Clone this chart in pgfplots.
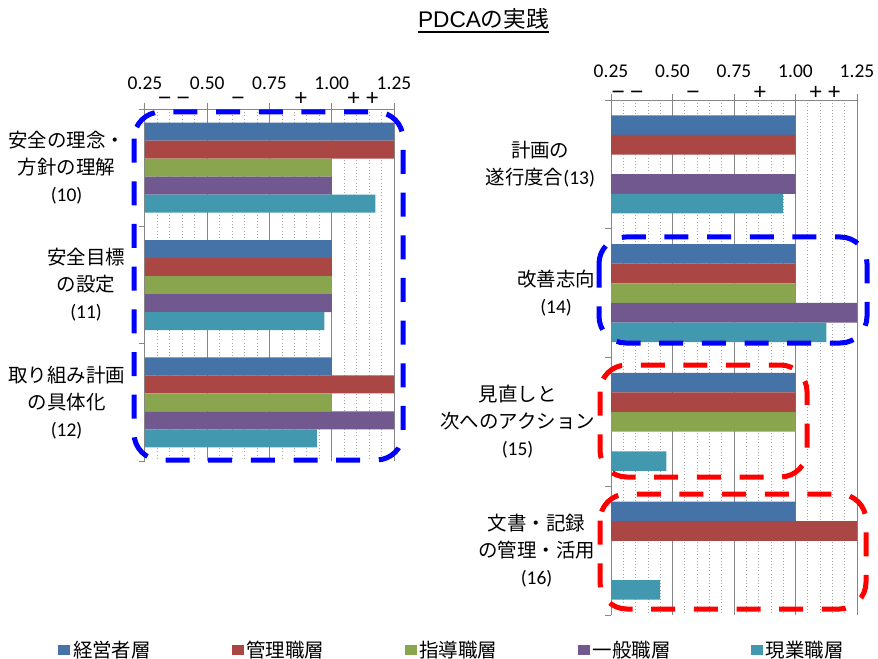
\documentclass[border=0pt]{standalone}
\usepackage{fontspec}
\setmainfont{Carlito}
\newfontfamily\jp{Noto Sans CJK JP}
\newfontfamily\arial{Liberation Sans}
\usepackage{pgfplots}
\pgfplotsset{compat=1.18}

\definecolor{c1}{HTML}{4572A7}
\definecolor{c2}{HTML}{AA4643}
\definecolor{c3}{HTML}{89A54E}
\definecolor{c4}{HTML}{71588F}
\definecolor{c5}{HTML}{4198AF}
\definecolor{gridmaj}{HTML}{868686}
\definecolor{gridmin}{HTML}{A6A6A6}

\newcommand{\lbl}{\fontsize{14.6}{20.25}\selectfont}

\pgfplotsset{
  panel/.style={
    scale only axis,
    xbar=0pt,
    xmin=0.25, xmax=1.25,
    xtick={0.25,0.5,0.75,1,1.25},
    minor x tick num=4,
    axis x line*=top,
    axis y line*=left,
    xticklabel pos=upper,
    axis line style={gridmaj, line width=0.75pt},
    y dir=reverse,
    tick align=outside,
    major tick length=4.5pt,
    minor tick length=4.5pt,
    tick style={gridmaj, line width=0.75pt},
    major y tick style={draw=none},
    minor x tick style={draw=none},
    xmajorgrids, xminorgrids,
    major grid style={gridmaj, line width=0.75pt},
    minor grid style={gridmin, dotted, line width=0.6pt},
    ticklabel style={font=\lbl},
    /pgf/number format/assume math mode=true,
    xticklabel style={/pgf/number format/fixed, /pgf/number format/fixed zerofill, /pgf/number format/precision=2, inner sep=0pt, yshift=9.9pt},
    yticklabel style={align=center},
  }
}

\begin{document}
\begin{tikzpicture}
\useasboundingbox (0,0) rectangle (658.5pt,-494.25pt);

% left panel (10)-(12)
\begin{axis}[panel,
  at={(108.75pt,-81.75pt)}, anchor=north west,
  width=186.75pt, height=264pt,
  bar width=13.5pt,
  ymin=-0.5, ymax=2.5,
  ytick={0,1,2},
  minor ytick={-0.5,0.5,1.5,2.5},
  yticklabels={
    {{\jp 安全の理念・}\\{\jp 方針の理解}\\(10)},
    {{\jp 安全目標}\\{\jp の設定}\\(11)},
    {{\jp 取り組み計画}\\{\jp の具体化}\\(12)}},
  yticklabel style={xshift=-7pt},
  legend columns=5,
  legend style={at={(axis description cs:-0.349,-0.537)}, anchor=west,
    draw=none, fill=none, inner sep=0pt, font=\lbl\jp,
    /tikz/every even column/.append style={column sep=58.5pt}},
  legend image code/.code={\fill[#1] (0pt,-4pt) rectangle (9pt,4pt);},
]
\addplot[fill=c1, draw=none, bar shift=27pt] coordinates {(1.25,0) (1.00,1) (1.00,2)};
\addplot[fill=c2, draw=none, bar shift=13.5pt] coordinates {(1.25,0) (1.00,1) (1.25,2)};
\addplot[fill=c3, draw=none, bar shift=0pt] coordinates {(1.00,0) (1.00,1) (1.00,2)};
\addplot[fill=c4, draw=none, bar shift=-13.5pt] coordinates {(1.00,0) (1.00,1) (1.25,2)};
\addplot[fill=c5, draw=none, bar shift=-27pt] coordinates {(1.175,0) (0.97,1) (0.94,2)};
\legend{経営者層,管理職層,指導職層,一般職層,現業職層}
\end{axis}

% right panel (13)-(16)
\begin{axis}[panel,
  at={(458.25pt,-75pt)}, anchor=north west,
  width=184.5pt, height=386.25pt,
  bar width=14.7pt,
  ymin=-0.5, ymax=3.5,
  ytick={0,1,2,3},
  minor ytick={-0.5,0.5,1.5,2.5,3.5},
  yticklabels={
    {{\jp 計画の}\\{\jp 遂行度合}(13)},
    {{\jp 改善志向}\\(14)},
    {{\jp 見直しと}\\{\jp 次へのアクション}\\(15)},
    {{\jp 文書・記録}\\{\jp の管理・活用}\\(16)}},
  yticklabel style={xshift=-4pt},
  xticklabel style={yshift=2pt},
]
\addplot[fill=c1, draw=none, bar shift=29.4pt] coordinates {(1.00,0) (1.00,1) (1.00,2) (1.00,3)};
\addplot[fill=c2, draw=none, bar shift=14.7pt] coordinates {(1.00,0) (1.00,1) (1.00,2) (1.25,3)};
\addplot[fill=c3, draw=none, bar shift=0pt] coordinates {(1.00,1) (1.00,2)};
\addplot[fill=c4, draw=none, bar shift=-14.7pt] coordinates {(1.00,0) (1.25,1)};
\addplot[fill=c5, draw=none, bar shift=-29.4pt] coordinates {(0.95,0) (1.125,1) (0.475,2) (0.45,3)};
\end{axis}

\begin{scope}[x=0.75pt, y=-0.75pt]
  % title
  \node[font=\fontsize{17}{20}\selectfont, anchor=base, inner sep=0pt] (t) at (483.5,28) {{\arial PDCA}{\jp の実践}};
  \draw[line width=1.4pt] ([yshift=-3pt]t.base west) -- ([yshift=-3pt]t.base east);
  % scale marks
  \begin{scope}[every node/.style={font=\fontsize{17}{20}\selectfont\arial, anchor=base, inner sep=0pt}]
    \node at (174,105.5) {−\kern4pt−};
    \node at (238,105.5) {−};
    \node at (301,105.5) {+};
    \node at (363,105.5) {+\kern4pt+};
    \node at (627.5,99.5) {−\kern4pt−};
    \node at (693,99.5) {−};
    \node at (760,99.5) {+};
    \node at (825,99.5) {+\kern4pt+};
  \end{scope}
  % highlight frames
  \begin{scope}[line width=3.75pt, dash pattern=on 18pt off 14pt, rounded corners=20pt]
    \draw[blue] (134,112) rectangle (403,460);
    \draw[blue] (599,237) rectangle (867,343);
    \draw[red] (600,365) rectangle (807,477);
    \draw[red] (600,494) rectangle (866,609);
  \end{scope}
\end{scope}
\end{tikzpicture}
\end{document}
